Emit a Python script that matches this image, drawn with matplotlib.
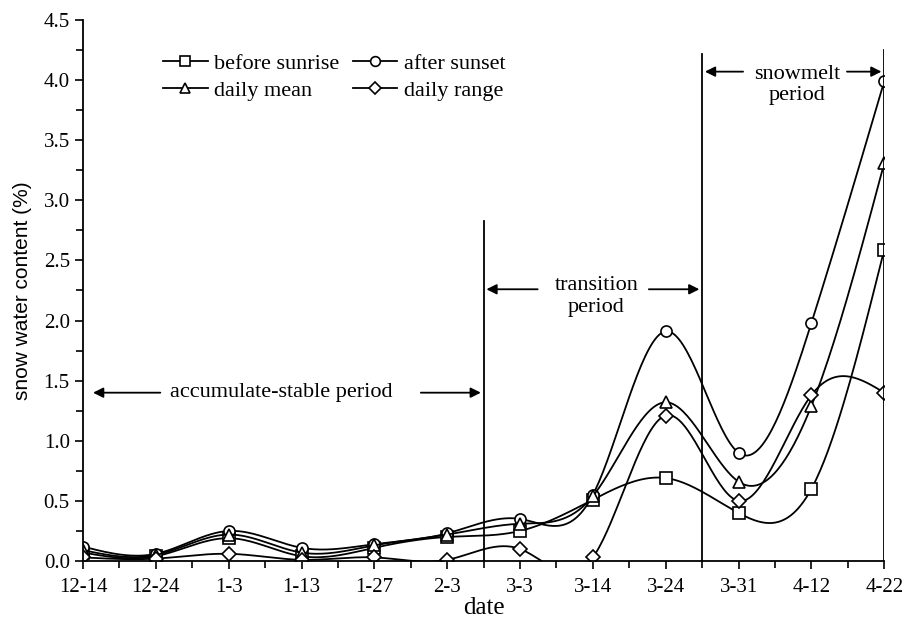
import numpy as np
import matplotlib.pyplot as plt
from matplotlib.ticker import MultipleLocator

plt.rcParams['font.family'] = 'Liberation Serif'
plt.rcParams['font.size'] = 15
plt.rcParams['xtick.direction'] = 'out'
plt.rcParams['ytick.direction'] = 'out'

dates = ["12-14", "12-24", "1-3", "1-13", "1-27", "2-3", "3-3", "3-14", "3-24", "3-31", "4-12", "4-22"]
before_sunrise = [0.07, 0.04, 0.19, 0.04, 0.11, 0.20, 0.25, 0.51, 0.69, 0.40, 0.60, 2.59]
after_sunset = [0.12, 0.06, 0.25, 0.11, 0.14, 0.23, 0.35, 0.55, 1.91, 0.90, 1.98, 3.99]
daily_mean = [0.09, 0.05, 0.22, 0.07, 0.13, 0.22, 0.31, 0.54, 1.32, 0.66, 1.29, 3.31]
daily_range = [0.03, 0.02, 0.06, 0.01, 0.03, 0.01, 0.10, 0.03, 1.21, 0.50, 1.38, 1.40]


def natural_spline(x, y, n=400):
    x = np.asarray(x, float)
    y = np.asarray(y, float)
    m = len(x)
    h = np.diff(x)
    A = np.zeros((m, m))
    b = np.zeros(m)
    A[0, 0] = A[-1, -1] = 1
    for i in range(1, m - 1):
        A[i, i - 1] = h[i - 1]
        A[i, i] = 2 * (h[i - 1] + h[i])
        A[i, i + 1] = h[i]
        b[i] = 6 * ((y[i + 1] - y[i]) / h[i] - (y[i] - y[i - 1]) / h[i - 1])
    M = np.linalg.solve(A, b)
    xs = np.linspace(x[0], x[-1], n)
    k = np.clip(np.searchsorted(x, xs) - 1, 0, m - 2)
    t1 = x[k + 1] - xs
    t0 = xs - x[k]
    hk = h[k]
    ys = (M[k] * t1**3 + M[k + 1] * t0**3) / (6 * hk) \
        + (y[k] / hk - M[k] * hk / 6) * t1 + (y[k + 1] / hk - M[k + 1] * hk / 6) * t0
    return xs, ys


fig = plt.figure(figsize=(9.06, 6.23), dpi=100)
ax = fig.add_axes([0.0916, 0.0995, 0.8844, 0.8685])
x = np.arange(len(dates))

series = [(before_sunrise, 's', 'before sunrise'),
          (after_sunset, 'o', 'after sunset'),
          (daily_mean, '^', 'daily mean'),
          (daily_range, 'D', 'daily range')]
order = [0, 2, 1, 3]
handles = {}
for i, (vals, mk, lab) in enumerate(series):
    xs, ys = natural_spline(x, vals)
    ms = 7 if mk == 'D' else 8
    ax.plot(xs, ys, color='black', lw=1.3)
    ax.plot(x, vals, ls='none', marker=mk, ms=ms, mfc='white', mec='black', mew=1.2)
    handles[i], = ax.plot([], [], color='black', lw=1.3, marker=mk, ms=ms - 1,
                          mfc='white', mec='black', mew=1.2, label=lab)

ax.legend([handles[i] for i in order], [series[i][2] for i in order], ncol=2, frameon=False,
          loc='upper left', bbox_to_anchor=(0.075, 0.975), handlelength=2.0, columnspacing=0.6,
          labelspacing=0.3, handletextpad=0.3, fontsize=16)

# period separators
ax.plot([5.5, 5.5], [0, 2.83], color='black', lw=1.3)
ax.plot([8.5, 8.5], [0, 4.22], color='black', lw=1.3)
ax.plot([11, 11], [0, 4.25], color='black', lw=1.3)

arr = dict(arrowstyle='-|>', color='black', lw=1.3, mutation_scale=15)
ax.annotate('', xy=(0.1, 1.4), xytext=(1.1, 1.4), arrowprops=arr)
ax.annotate('', xy=(5.5, 1.4), xytext=(4.6, 1.4), arrowprops=arr)
ax.text(2.72, 1.4, 'accumulate-stable period', ha='center', va='center', fontsize=16)

ax.annotate('', xy=(5.5, 2.26), xytext=(6.28, 2.26), arrowprops=arr)
ax.annotate('', xy=(8.5, 2.26), xytext=(7.73, 2.26), arrowprops=arr)
ax.text(7.05, 2.2, 'transition\nperiod', ha='center', va='center', linespacing=1.15, fontsize=16)

ax.annotate('', xy=(8.5, 4.07), xytext=(9.1, 4.07), arrowprops=arr)
ax.annotate('', xy=(11, 4.07), xytext=(10.45, 4.07), arrowprops=arr)
ax.text(9.8, 3.96, 'snowmelt\nperiod', ha='center', va='center', linespacing=1.15, fontsize=16)

ax.set_xlim(0, 11)
ax.set_ylim(0, 4.5)
ax.set_xticks(x)
ax.set_xticklabels(dates)
ax.xaxis.set_minor_locator(MultipleLocator(0.5))
ax.yaxis.set_major_locator(MultipleLocator(0.5))
ax.yaxis.set_minor_locator(MultipleLocator(0.25))
ax.yaxis.set_major_formatter(plt.FormatStrFormatter('%.1f'))
ax.tick_params(which='major', length=6, width=1.2, labelsize=15)
ax.tick_params(axis='x', which='major', pad=6)
ax.tick_params(which='minor', length=5, width=1.2)
ax.spines['top'].set_visible(False)
ax.spines['right'].set_visible(False)
ax.spines['left'].set_linewidth(1.3)
ax.spines['bottom'].set_linewidth(1.3)
ax.set_xlabel('date', fontsize=18, labelpad=0)
ax.set_ylabel('snow water content (%)', fontsize=15, labelpad=8, family='Liberation Sans')

fig.savefig('out.png', dpi=100)
